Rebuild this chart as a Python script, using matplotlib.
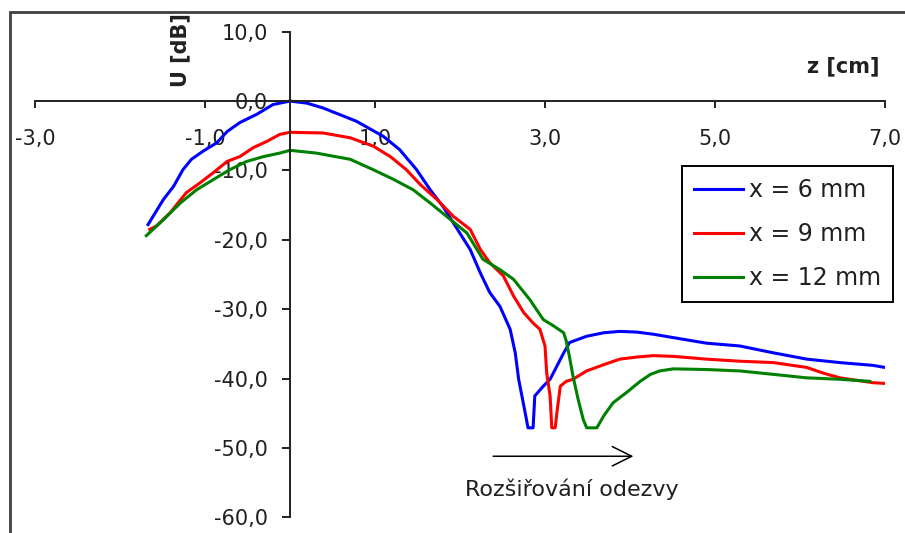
import matplotlib
matplotlib.use("Agg")
import matplotlib.pyplot as plt
from matplotlib.patches import Rectangle

# Measured response U [dB] vs. position z [cm] for three probe offsets x
z_6mm = [-1.67, -1.61, -1.49, -1.37, -1.26, -1.16, -1.02, -0.86, -0.74, -0.59, -0.39, -0.20,
         0.00, 0.20, 0.39, 0.78, 1.10, 1.29, 1.49, 1.65, 1.80, 1.96, 2.12, 2.24, 2.35, 2.47,
         2.59, 2.65, 2.69, 2.76, 2.80, 2.86, 2.88, 2.98, 3.06, 3.14, 3.22, 3.29, 3.49, 3.69,
         3.88, 4.08, 4.27, 4.51, 4.90, 5.29, 5.69, 6.08, 6.47, 6.86, 7.00]
u_6mm = [-17.8, -16.6, -14.2, -12.3, -9.9, -8.4, -7.2, -6.0, -4.4, -3.1, -1.9, -0.5,
         0.0, -0.3, -1.0, -2.9, -5.1, -7.0, -9.9, -12.8, -15.2, -18.3, -21.4, -24.8, -27.6, -29.6,
         -32.9, -36.3, -40.1, -44.5, -47.1, -47.1, -42.5, -41.1, -40.1, -38.2, -36.3, -34.8, -33.9, -33.4,
         -33.2, -33.3, -33.6, -34.1, -34.9, -35.3, -36.3, -37.2, -37.7, -38.1, -38.4]

z_9mm = [-1.65, -1.57, -1.41, -1.22, -1.06, -0.90, -0.74, -0.59, -0.43, -0.27, -0.12, 0.00,
         0.39, 0.71, 0.98, 1.18, 1.37, 1.53, 1.73, 1.92, 2.12, 2.24, 2.35, 2.51, 2.63, 2.75,
         2.86, 2.94, 3.00, 3.02, 3.06, 3.08, 3.12, 3.14, 3.18, 3.25, 3.33, 3.49, 3.69, 3.88,
         4.08, 4.27, 4.51, 4.90, 5.29, 5.69, 6.08, 6.27, 6.47, 6.86, 7.00]
u_9mm = [-18.5, -18.0, -16.1, -13.2, -11.8, -10.3, -8.7, -8.0, -6.7, -5.8, -4.8, -4.5,
         -4.6, -5.3, -6.5, -8.0, -9.9, -12.0, -14.2, -16.6, -18.5, -21.4, -23.3, -25.2, -28.1, -30.5,
         -32.0, -32.9, -35.3, -39.2, -42.5, -47.1, -47.1, -44.9, -41.1, -40.4, -40.1, -38.9, -38.0, -37.2,
         -36.9, -36.7, -36.8, -37.2, -37.5, -37.7, -38.4, -39.2, -39.9, -40.6, -40.7]

z_12mm = [-1.69, -1.49, -1.29, -1.10, -0.90, -0.71, -0.51, -0.31, -0.12, 0.00, 0.31, 0.71,
          0.98, 1.22, 1.45, 1.65, 1.84, 2.08, 2.27, 2.47, 2.63, 2.82, 2.98, 3.10, 3.22, 3.25,
          3.29, 3.33, 3.39, 3.45, 3.49, 3.61, 3.69, 3.80, 3.96, 4.12, 4.24, 4.35, 4.51, 4.90,
          5.29, 5.69, 6.08, 6.47, 6.82]
u_12mm = [-19.4, -17.1, -14.7, -12.8, -11.3, -9.9, -8.7, -8.0, -7.5, -7.1, -7.5, -8.4,
          -9.9, -11.3, -12.8, -14.7, -16.6, -19.0, -22.8, -24.3, -25.7, -28.6, -31.5, -32.4, -33.4, -34.6,
          -37.0, -39.7, -43.0, -45.9, -47.1, -47.1, -45.4, -43.5, -42.0, -40.4, -39.4, -38.9, -38.6, -38.7,
          -38.9, -39.4, -39.9, -40.1, -40.4]

series_labels = ["x = 6 mm", "x = 9 mm", "x = 12 mm"]
series_colors = ["#0000ff", "#ff0000", "#008000"]

x_ticks = [-3, -1, 1, 3, 5, 7]
x_tick_labels = ["-3,0", "-1,0", "1,0", "3,0", "5,0", "7,0"]
y_ticks = [10, 0, -10, -20, -30, -40, -50, -60]
y_tick_labels = ["10,0", "0,0", "-10,0", "-20,0", "-30,0", "-40,0", "-50,0", "-60,0"]

plt.rcParams['font.family'] = ['DejaVu Sans']

W, H = 905, 533
fig = plt.figure(figsize=(W / 100, H / 100), dpi=100)
ax = fig.add_axes([35 / W, 1 - 517.3 / H, 850 / W, (517.3 - 31.7) / H])

# outer chart frame (cut off at right and bottom like the original)
fig.patches.append(Rectangle((10 / W, -0.05), 1.2, 1 - 12 / H + 0.05,
                             transform=fig.transFigure, fill=False,
                             edgecolor="#404040", linewidth=2.0))

for z, u, lab, col in zip([z_6mm, z_9mm, z_12mm], [u_6mm, u_9mm, u_12mm],
                          series_labels, series_colors):
    ax.plot(z, u, color=col, linewidth=2.2, label=lab)

ax.set_xlim(-3, 7)
ax.set_ylim(-60, 10)

# axes crossing at the origin
ax.spines['left'].set_position(('data', 0))
ax.spines['bottom'].set_position(('data', 0))
ax.spines['right'].set_visible(False)
ax.spines['top'].set_visible(False)
for s in ('left', 'bottom'):
    ax.spines[s].set_linewidth(1.4)
    ax.spines[s].set_color("#202020")

ax.set_xticks(x_ticks)
ax.set_xticklabels(x_tick_labels)
ax.set_yticks(y_ticks)
ax.set_yticklabels(y_tick_labels)
ax.tick_params(axis='x', direction='out', length=5, width=1.4, pad=15,
               labelsize=15, colors="#202020")
ax.tick_params(axis='y', direction='out', length=6, width=1.4, pad=10,
               labelsize=15, colors="#202020")

ax.text(-1.29, 7.3, "U [dB]", rotation=90, ha='center', va='center',
        fontsize=15, fontweight='bold', color="#202020")
ax.text(6.94, 5.0, "z [cm]", ha='right', va='center',
        fontsize=15, fontweight='bold', color="#202020")

ax.annotate("", xy=(4.04, -51.2), xytext=(2.39, -51.2),
            arrowprops=dict(arrowstyle="->,head_length=0.7,head_width=0.35",
                            color="black", lw=1.1, mutation_scale=20,
                            shrinkA=0, shrinkB=0))
ax.text(3.31, -56.0, "Rozšiřování odezvy", ha='center', va='center',
        fontsize=16, color="#202020")

leg = ax.legend(loc='upper right', bbox_to_anchor=(893 / W, 1 - 166 / H),
                bbox_transform=fig.transFigure, borderaxespad=0,
                fontsize=17, handlelength=2.1, handletextpad=0.25,
                labelspacing=0.85, borderpad=0.5, fancybox=False,
                framealpha=1, edgecolor='black')
leg.get_frame().set_linewidth(1.4)
for t in leg.get_texts():
    t.set_color("#202020")

fig.savefig("out.png", dpi=100)
